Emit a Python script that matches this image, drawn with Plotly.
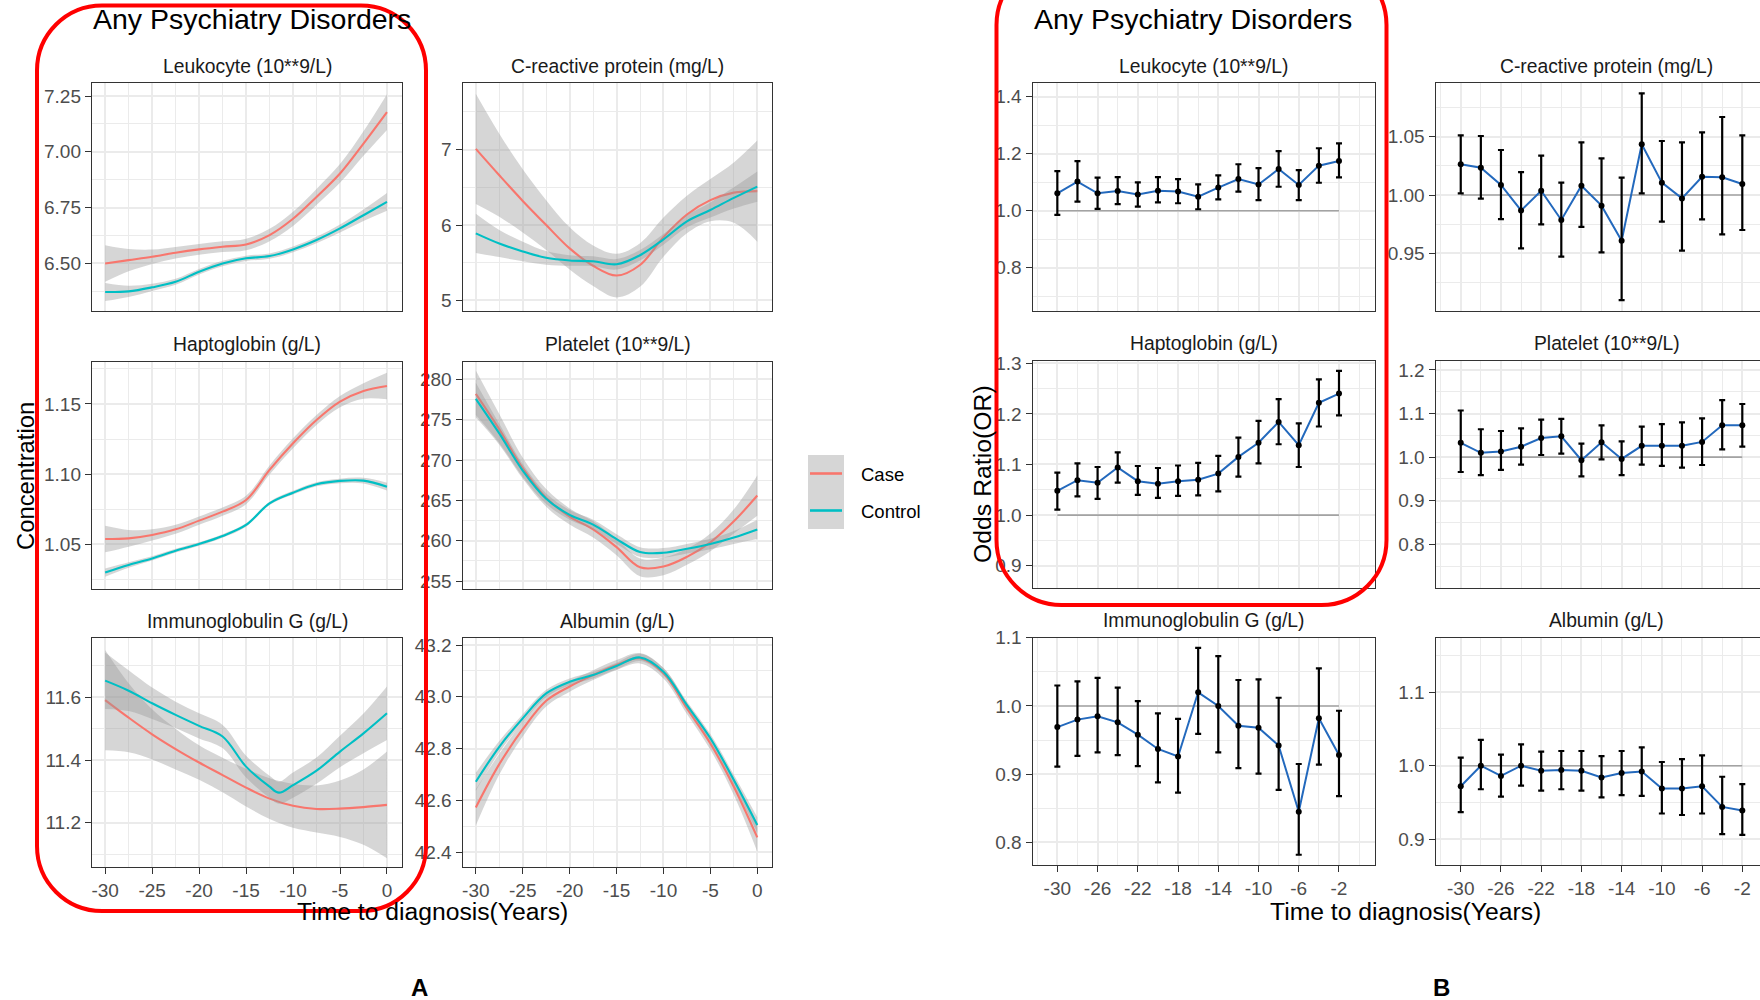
import plotly.graph_objects as go

W, H = 1760, 1000
FONT = "Liberation Sans, Arial, sans-serif"
CASE_COL = "#F8766D"
CTRL_COL = "#00BFC4"
RIBBON = "rgba(153,153,153,0.4)"
GRID = "#EBEBEB"
BORDER = "#333333"
TICKTXT = "#4D4D4D"
BLUE = "#2369BD"

# ---------------- Panel A data (smoothed concentration, +/- half width of CI band)
XA = [-30, -27.5, -25, -22.5, -20, -17.5, -15, -12.5, -10, -7.5, -5, -2.5, 0]
XA_TICKS = [-30, -25, -20, -15, -10, -5, 0]

LEUK_CASE = [6.50, 6.515, 6.53, 6.548, 6.563, 6.575, 6.585, 6.627, 6.70, 6.798, 6.903, 7.037, 7.178]
LEUK_CASE_HW = [0.082, 0.05, 0.032, 0.026, 0.024, 0.024, 0.026, 0.028, 0.032, 0.036, 0.042, 0.055, 0.08]
LEUK_CTRL = [6.372, 6.375, 6.393, 6.418, 6.463, 6.50, 6.523, 6.533, 6.563, 6.605, 6.657, 6.716, 6.776]
LEUK_CTRL_HW = [0.04, 0.025, 0.016, 0.013, 0.012, 0.012, 0.012, 0.012, 0.013, 0.015, 0.018, 0.026, 0.04]

CRP_CASE = [7.01, 6.66, 6.32, 6.00, 5.69, 5.46, 5.33, 5.47, 5.84, 6.14, 6.33, 6.43, 6.45]
CRP_CASE_HW = [0.73, 0.55, 0.42, 0.33, 0.28, 0.27, 0.29, 0.29, 0.26, 0.25, 0.28, 0.40, 0.67]
CRP_CTRL = [5.89, 5.755, 5.65, 5.565, 5.53, 5.52, 5.48, 5.60, 5.81, 6.05, 6.20, 6.36, 6.51]
CRP_CTRL_HW = [0.26, 0.18, 0.13, 0.09, 0.07, 0.065, 0.07, 0.07, 0.07, 0.08, 0.10, 0.14, 0.20]

HAPT_CASE = [1.0538, 1.0543, 1.0567, 1.0607, 1.0669, 1.0733, 1.0816, 1.103, 1.122, 1.1386, 1.1517, 1.1593, 1.1628]
HAPT_CASE_HW = [0.0095, 0.006, 0.004, 0.0032, 0.003, 0.003, 0.003, 0.0032, 0.0035, 0.0035, 0.004, 0.0055, 0.0095]
HAPT_CTRL = [1.0299, 1.0353, 1.040, 1.0455, 1.0503, 1.056, 1.0638, 1.0792, 1.0868, 1.0928, 1.0952, 1.0954, 1.0911]
HAPT_CTRL_HW = [0.003, 0.002, 0.0015, 0.0013, 0.0012, 0.0012, 0.0012, 0.0012, 0.0013, 0.0014, 0.0016, 0.002, 0.0028]

PLAT_CASE = [278.2, 273.8, 269.0, 265.3, 263.0, 261.4, 259.2, 256.7, 256.8, 258.0, 259.8, 262.4, 265.6]
PLAT_CASE_HW = [2.9, 1.9, 1.3, 1.1, 1.0, 1.0, 1.0, 1.1, 1.1, 1.0, 1.1, 1.5, 2.5]
PLAT_CTRL = [277.6, 273.3, 268.7, 265.2, 263.2, 262.0, 260.2, 258.6, 258.5, 259.0, 259.6, 260.4, 261.4]
PLAT_CTRL_HW = [2.0, 1.2, 0.8, 0.65, 0.6, 0.6, 0.6, 0.6, 0.6, 0.6, 0.65, 0.8, 1.2]

IGG_CASE = [11.591, 11.535, 11.482, 11.435, 11.392, 11.352, 11.312, 11.277, 11.254, 11.244, 11.245, 11.25, 11.257]
IGG_CASE_HW = [0.16, 0.11, 0.08, 0.065, 0.055, 0.055, 0.06, 0.065, 0.07, 0.075, 0.09, 0.12, 0.17]
XA_IGG_CTRL = [-30, -27.5, -25, -22.5, -20, -17.5, -15, -12.5, -11.5, -10, -7.5, -5, -2.5, 0]
IGG_CTRL = [11.653, 11.621, 11.581, 11.544, 11.509, 11.475, 11.379, 11.315, 11.296, 11.32, 11.366, 11.427, 11.485, 11.549]
IGG_CTRL_HW = [0.09, 0.065, 0.05, 0.042, 0.04, 0.037, 0.035, 0.035, 0.035, 0.04, 0.042, 0.05, 0.063, 0.085]

ALB_CASE = [42.573, 42.74, 42.875, 42.985, 43.04, 43.084, 43.123, 43.149, 43.091, 42.955, 42.82, 42.653, 42.457]
ALB_CASE_HW = [0.07, 0.04, 0.028, 0.022, 0.02, 0.019, 0.019, 0.02, 0.02, 0.021, 0.024, 0.032, 0.055]
ALB_CTRL = [42.672, 42.807, 42.917, 43.013, 43.058, 43.084, 43.119, 43.152, 43.097, 42.968, 42.84, 42.679, 42.505]
ALB_CTRL_HW = [0.035, 0.022, 0.016, 0.014, 0.013, 0.013, 0.013, 0.014, 0.014, 0.014, 0.016, 0.02, 0.03]

# ---------------- Panel B data (odds ratios with 95% CI)
XB = [-30, -28, -26, -24, -22, -20, -18, -16, -14, -12, -10, -8, -6, -4, -2]
XB_TICKS = [-30, -26, -22, -18, -14, -10, -6, -2]

LEUK_OR = [1.061, 1.102, 1.061, 1.069, 1.057, 1.070, 1.067, 1.049, 1.081, 1.111, 1.092, 1.146, 1.090, 1.158, 1.174]
LEUK_HI = [1.139, 1.174, 1.116, 1.118, 1.099, 1.118, 1.111, 1.092, 1.124, 1.163, 1.149, 1.209, 1.142, 1.219, 1.236]
LEUK_LO = [0.985, 1.032, 1.006, 1.023, 1.014, 1.029, 1.026, 1.005, 1.040, 1.067, 1.037, 1.084, 1.037, 1.098, 1.117]

CRP_OR = [1.0263, 1.0234, 1.0086, 0.9868, 1.0037, 0.9786, 1.0080, 0.9909, 0.9608, 1.0435, 1.0106, 0.9971, 1.0157, 1.0152, 1.0094]
CRP_HI = [1.0512, 1.0506, 1.0386, 1.0197, 1.0337, 1.0106, 1.0452, 1.0314, 1.0149, 1.0872, 1.0463, 1.0452, 1.0537, 1.0669, 1.0512]
CRP_LO = [1.0014, 0.9969, 0.9794, 0.9543, 0.9748, 0.9471, 0.9726, 0.9508, 0.9099, 1.0014, 0.9771, 0.9523, 0.9791, 0.9663, 0.9700]

HAPT_OR = [1.048, 1.069, 1.064, 1.094, 1.067, 1.062, 1.067, 1.070, 1.082, 1.115, 1.143, 1.184, 1.138, 1.222, 1.240]
HAPT_HI = [1.084, 1.102, 1.095, 1.124, 1.097, 1.093, 1.098, 1.103, 1.117, 1.153, 1.186, 1.229, 1.181, 1.268, 1.285]
HAPT_LO = [1.011, 1.037, 1.032, 1.064, 1.040, 1.034, 1.038, 1.039, 1.047, 1.076, 1.102, 1.140, 1.095, 1.175, 1.197]

PLAT_OR = [1.033, 1.010, 1.013, 1.024, 1.044, 1.048, 0.993, 1.034, 0.996, 1.026, 1.026, 1.026, 1.035, 1.073, 1.073]
PLAT_HI = [1.107, 1.064, 1.060, 1.066, 1.086, 1.088, 1.031, 1.073, 1.036, 1.070, 1.076, 1.080, 1.089, 1.131, 1.122]
PLAT_LO = [0.966, 0.959, 0.971, 0.983, 1.005, 1.008, 0.956, 0.995, 0.959, 0.983, 0.980, 0.976, 0.982, 1.018, 1.024]

IGG_OR = [0.969, 0.980, 0.985, 0.976, 0.958, 0.937, 0.926, 1.020, 1.000, 0.971, 0.968, 0.942, 0.845, 0.982, 0.928]
IGG_HI = [1.030, 1.036, 1.041, 1.027, 1.007, 0.989, 0.981, 1.085, 1.073, 1.038, 1.039, 1.012, 0.915, 1.055, 0.993]
IGG_LO = [0.911, 0.927, 0.932, 0.928, 0.912, 0.888, 0.873, 0.959, 0.932, 0.909, 0.901, 0.877, 0.782, 0.914, 0.868]

ALB_OR = [0.972, 1.000, 0.986, 1.000, 0.993, 0.994, 0.993, 0.984, 0.990, 0.992, 0.969, 0.969, 0.972, 0.944, 0.939]
ALB_HI = [1.011, 1.035, 1.015, 1.029, 1.019, 1.020, 1.020, 1.013, 1.020, 1.025, 1.005, 1.009, 1.014, 0.985, 0.975]
ALB_LO = [0.937, 0.968, 0.958, 0.973, 0.966, 0.968, 0.966, 0.957, 0.960, 0.959, 0.935, 0.933, 0.935, 0.907, 0.906]

TITLES = ["Leukocyte (10**9/L)", "C-reactive protein (mg/L)", "Haptoglobin (g/L)",
          "Platelet (10**9/L)", "Immunoglobulin G (g/L)", "Albumin (g/L)"]


def fx(x):
    return x / W


def fy(y):
    return 1 - y / H


# panel geometry in pixels
A_COLS = [(92, 402), (462.7, 772.3)]
A_ROWS = [(83.3, 311), (361.7, 589.3), (638.3, 866.7)]
B_COLS = [(1032.7, 1375), (1435.7, 1760)]
B_ROWS = [(83.3, 310.7), (360.7, 587.5), (637.7, 865)]

A_SPECS = [
    (XA, LEUK_CASE, LEUK_CASE_HW, XA, LEUK_CTRL, LEUK_CTRL_HW, [6.287, 7.307], 0.25, 6.5, 0.125, ".2f"),
    (XA, CRP_CASE, CRP_CASE_HW, XA, CRP_CTRL, CRP_CTRL_HW, [4.86, 7.88], 1, 5, 0.5, "d"),
    (XA, HAPT_CASE, HAPT_CASE_HW, XA, HAPT_CTRL, HAPT_CTRL_HW, [1.018, 1.1801], 0.05, 1.05, 0.025, ".2f"),
    (XA, PLAT_CASE, PLAT_CASE_HW, XA, PLAT_CTRL, PLAT_CTRL_HW, [253.97, 282.2], 5, 255, 2.5, "d"),
    (XA, IGG_CASE, IGG_CASE_HW, XA_IGG_CTRL, IGG_CTRL, IGG_CTRL_HW, [11.06, 11.788], 0.2, 11.2, 0.1, ".1f"),
    (XA, ALB_CASE, ALB_CASE_HW, XA, ALB_CTRL, ALB_CTRL_HW, [42.344, 43.226], 0.2, 42.4, 0.1, ".1f"),
]

B_SPECS = [
    (LEUK_OR, LEUK_LO, LEUK_HI, [0.649, 1.447], 0.2, 0.8, 0.1, ".1f"),
    (CRP_OR, CRP_LO, CRP_HI, [0.9008, 1.0958], 0.05, 0.95, 0.025, ".2f"),
    (HAPT_OR, HAPT_LO, HAPT_HI, [0.857, 1.305], 0.1, 0.9, 0.05, ".1f"),
    (PLAT_OR, PLAT_LO, PLAT_HI, [0.701, 1.2213], 0.1, 0.8, 0.05, ".1f"),
    (IGG_OR, IGG_LO, IGG_HI, [0.767, 1.10], 0.1, 0.8, 0.05, ".1f"),
    (ALB_OR, ALB_LO, ALB_HI, [0.865, 1.174], 0.1, 0.9, 0.05, ".1f"),
]

fig = go.Figure()
layout = {}
annotations = []
shapes = []

tickfont = dict(family=FONT, size=19, color=TICKTXT)


def axis_pair(idx, col, row, xr, xticks, xminor, yr, ydtick, ytick0, yminor, yfmt, bottom, mirror_y=True):
    s = "" if idx == 1 else str(idx)
    layout["xaxis" + s] = dict(
        domain=[fx(col[0]), fx(col[1])], range=xr, anchor="y" + s,
        tickmode="array", tickvals=xticks, ticktext=[str(v) for v in xticks],
        showgrid=True, gridcolor=GRID, gridwidth=1.8, zeroline=False,
        minor=dict(tick0=-30, dtick=xminor, showgrid=True, gridcolor=GRID, gridwidth=0.9),
        showline=True, linecolor=BORDER, linewidth=1.4, mirror=True,
        ticks="outside" if bottom else "", ticklen=6, tickwidth=1.4, tickcolor=BORDER,
        showticklabels=bottom, tickfont=tickfont, fixedrange=True, automargin=False,
    )
    layout["yaxis" + s] = dict(
        domain=[fy(row[1]), fy(row[0])], range=yr, anchor="x" + s,
        tickmode="linear", tick0=ytick0, dtick=ydtick, tickformat=yfmt,
        showgrid=True, gridcolor=GRID, gridwidth=1.8, zeroline=False,
        minor=dict(tick0=ytick0, dtick=yminor, showgrid=True, gridcolor=GRID, gridwidth=0.9),
        showline=True, linecolor=BORDER, linewidth=1.4, mirror=mirror_y,
        ticks="outside", ticklen=6, tickwidth=1.4, tickcolor=BORDER,
        showticklabels=True, tickfont=tickfont, fixedrange=True, automargin=False,
    )
    return "x" + s, "y" + s


def strip(col, row, text):
    right = col[1] if col[1] < 1760 else col[0] + 342.3
    annotations.append(dict(
        x=fx((col[0] + right) / 2), y=fy(row[0] - 17), xref="paper", yref="paper", text=text,
        showarrow=False, xanchor="center", yanchor="middle",
        font=dict(family=FONT, size=19.3, color="#1A1A1A")))


# ---------- Panel A
for k, spec in enumerate(A_SPECS):
    xc, case, case_hw, xk, ctrl, ctrl_hw, yr, ydt, yt0, ymin, yfmt = spec
    r, c = divmod(k, 2)
    col, row = A_COLS[c], A_ROWS[r]
    xa, ya = axis_pair(k + 1, col, row, [-31.4, 1.6], XA_TICKS, 2.5, yr, ydt, yt0, ymin, yfmt, r == 2)
    for xs, mean, hw, colr in ((xc, case, case_hw, CASE_COL), (xk, ctrl, ctrl_hw, CTRL_COL)):
        up = [m + h for m, h in zip(mean, hw)]
        lo = [m - h for m, h in zip(mean, hw)]
        fig.add_trace(go.Scatter(x=xs, y=up, mode="lines", line=dict(width=0, shape="spline"),
                                 xaxis=xa, yaxis=ya, showlegend=False, hoverinfo="skip"))
        fig.add_trace(go.Scatter(x=xs, y=lo, mode="lines", line=dict(width=0, shape="spline"),
                                 fill="tonexty", fillcolor=RIBBON,
                                 xaxis=xa, yaxis=ya, showlegend=False, hoverinfo="skip"))
        fig.add_trace(go.Scatter(x=xs, y=mean, mode="lines", line=dict(width=2.1, color=colr, shape="spline"),
                                 xaxis=xa, yaxis=ya, showlegend=False))
    strip(col, row, TITLES[k])

# ---------- Panel B
for k, spec in enumerate(B_SPECS):
    orv, lo, hi, yr, ydt, yt0, ymin, yfmt = spec
    r, c = divmod(k, 2)
    col, row = B_COLS[c], B_ROWS[r]
    xr = [-32.45, 1.58] if c == 0 else [-32.49, -0.24]
    xa, ya = axis_pair(k + 7, col, row, xr, XB_TICKS, 2, yr, ydt, yt0, ymin, yfmt, r == 2, mirror_y=(c == 0))
    fig.add_trace(go.Scatter(x=[XB[0], XB[-1]], y=[1, 1], mode="lines",
                             line=dict(color="#A3A3A3", width=1.6), xaxis=xa, yaxis=ya,
                             showlegend=False, hoverinfo="skip"))
    fig.add_trace(go.Scatter(x=XB, y=orv, mode="lines", line=dict(color=BLUE, width=2),
                             xaxis=xa, yaxis=ya, showlegend=False))
    fig.add_trace(go.Scatter(
        x=XB, y=orv, mode="markers", marker=dict(color="black", size=6),
        error_y=dict(type="data", symmetric=False,
                     array=[h - o for h, o in zip(hi, orv)],
                     arrayminus=[o - l for o, l in zip(orv, lo)],
                     color="black", thickness=2.2, width=3),
        xaxis=xa, yaxis=ya, showlegend=False))
    strip(col, row, TITLES[k])

# ---------- titles and axis titles
for x0 in (92, 1032.7):
    annotations.append(dict(x=fx(x0 - 1), y=fy(19), xref="paper", yref="paper",
                            text="Any Psychiatry Disorders", showarrow=False,
                            xanchor="left", yanchor="middle",
                            font=dict(family=FONT, size=28.5, color="black")))
for xc in (432, 1405):
    annotations.append(dict(x=fx(xc), y=fy(911), xref="paper", yref="paper",
                            text="Time to diagnosis(Years)", showarrow=False,
                            xanchor="center", yanchor="middle",
                            font=dict(family=FONT, size=24.7, color="black")))
annotations.append(dict(x=fx(25), y=fy(476), xref="paper", yref="paper", text="Concentration",
                        showarrow=False, textangle=-90, xanchor="center", yanchor="middle",
                        font=dict(family=FONT, size=23.8, color="black")))
annotations.append(dict(x=fx(982), y=fy(474), xref="paper", yref="paper", text="Odds Ratio(OR)",
                        showarrow=False, textangle=-90, xanchor="center", yanchor="middle",
                        font=dict(family=FONT, size=24.8, color="black")))
for lab, xc in (("A", 419), ("B", 1441)):
    annotations.append(dict(x=fx(xc), y=fy(987), xref="paper", yref="paper", text="<b>%s</b>" % lab,
                            showarrow=False, xanchor="center", yanchor="middle",
                            font=dict(family=FONT, size=24, color="black")))

# ---------- legend (drawn)
shapes.append(dict(type="rect", xref="paper", yref="paper", x0=fx(808), x1=fx(844),
                   y0=fy(529), y1=fy(455), fillcolor=RIBBON, line=dict(width=0)))
for yy, colr, name in ((473.5, CASE_COL, "Case"), (510.5, CTRL_COL, "Control")):
    shapes.append(dict(type="line", xref="paper", yref="paper", x0=fx(810), x1=fx(842),
                       y0=fy(yy), y1=fy(yy), line=dict(color=colr, width=2.6)))
    annotations.append(dict(x=fx(859), y=fy(yy + 1), xref="paper", yref="paper", text=name,
                            showarrow=False, xanchor="left", yanchor="middle",
                            font=dict(family=FONT, size=18.5, color="black")))


# ---------- red rounded boxes
def rounded_path(x0, y0, x1, y1, r):
    k = 0.5523 * r

    def P(x, y):
        return "%f,%f" % (fx(x), fy(y))
    pts = ["M" + P(x0 + r, y0), "L" + P(x1 - r, y0),
           "C" + P(x1 - r + k, y0) + " " + P(x1, y0 + r - k) + " " + P(x1, y0 + r),
           "L" + P(x1, y1 - r),
           "C" + P(x1, y1 - r + k) + " " + P(x1 - r + k, y1) + " " + P(x1 - r, y1),
           "L" + P(x0 + r, y1),
           "C" + P(x0 + r - k, y1) + " " + P(x0, y1 - r + k) + " " + P(x0, y1 - r),
           "L" + P(x0, y0 + r),
           "C" + P(x0, y0 + r - k) + " " + P(x0 + r - k, y0) + " " + P(x0 + r, y0), "Z"]
    return " ".join(pts)


for (x0, y0, x1, y1) in ((37, 5.5, 426, 911), (996.5, -40, 1386.5, 605)):
    shapes.append(dict(type="path", xref="paper", yref="paper", path=rounded_path(x0, y0, x1, y1, 65),
                       line=dict(color="#FF0000", width=4), fillcolor="rgba(0,0,0,0)", layer="above"))

layout.update(dict(
    width=W, height=H, autosize=False,
    margin=dict(l=0, r=0, t=0, b=0, pad=0, autoexpand=False),
    paper_bgcolor="white", plot_bgcolor="white",
    showlegend=False, annotations=annotations, shapes=shapes,
    font=dict(family=FONT),
))
fig.update_layout(**layout)
fig.write_html("out.html", config={"displayModeBar": False, "responsive": False},
               post_script="document.body.style.margin='0';document.body.style.padding='0';"
                           "document.body.style.overflow='hidden';")
